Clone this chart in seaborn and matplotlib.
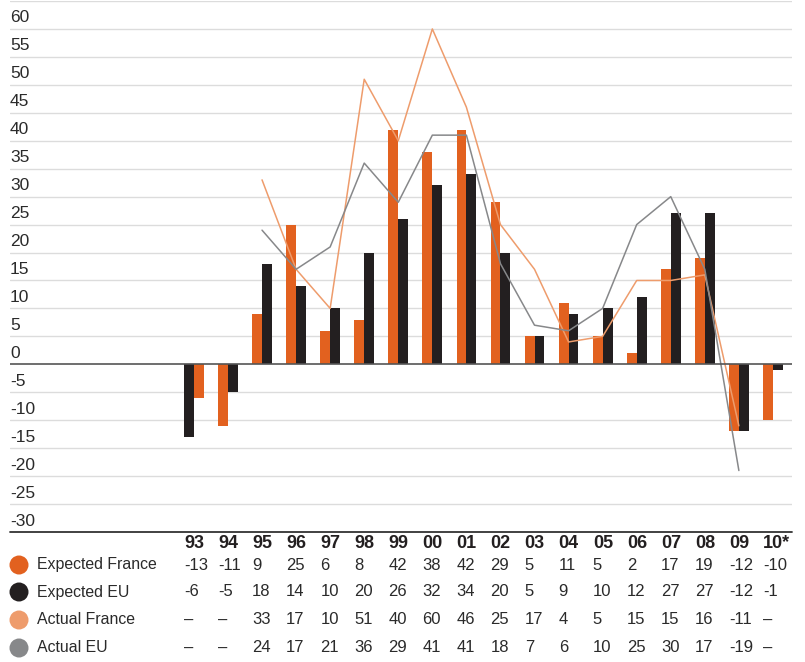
import numpy as np
import pandas as pd
import matplotlib
matplotlib.use("Agg")
import matplotlib.pyplot as plt
from matplotlib.patches import Ellipse
from matplotlib.transforms import blended_transform_factory, ScaledTranslation
import seaborn as sns

# ---- data -------------------------------------------------------------
years = ["93", "94", "95", "96", "97", "98", "99", "00", "01", "02",
         "03", "04", "05", "06", "07", "08", "09", "10*"]
expected_france = [-13, -11, 9, 25, 6, 8, 42, 38, 42, 29, 5, 11, 5, 2, 17, 19, -12, -10]
expected_eu = [-6, -5, 18, 14, 10, 20, 26, 32, 34, 20, 5, 9, 10, 12, 27, 27, -12, -1]
actual_france = [np.nan, np.nan, 33, 17, 10, 51, 40, 60, 46, 25, 17, 4, 5, 15, 15, 16, -11, np.nan]
actual_eu = [np.nan, np.nan, 24, 17, 21, 36, 29, 41, 41, 18, 7, 6, 10, 25, 30, 17, -19, np.nan]

series_names = ["Expected France", "Expected EU", "Actual France", "Actual EU"]
y_ticks = list(range(60, -31, -5))

ORANGE = "#E2611F"
BLACK = "#231F20"
LIGHT_ORANGE = "#EE9C6C"
GREY = "#87888A"
GRID = "#DCDCDC"
TEXT = "#2A2A2A"

# ---- style ------------------------------------------------------------
sns.set_style("white")
plt.rcParams["font.family"] = ["Liberation Sans", "DejaVu Sans"]

W, H = 805, 662
fig = plt.figure(figsize=(W / 100, H / 100), dpi=100)
ax = fig.add_axes([10 / W, 130 / H, 782 / W, 531 / H])

bars = pd.DataFrame({
    "year": years * 2,
    "value": expected_france + expected_eu,
    "series": ["Expected France"] * len(years) + ["Expected EU"] * len(years),
})
sns.barplot(data=bars, x="year", y="value", hue="series", order=years,
            hue_order=["Expected France", "Expected EU"],
            palette=[ORANGE, BLACK], width=0.58, gap=0, saturation=1,
            edgecolor="none", linewidth=0, legend=False, ax=ax, zorder=3)

# the first year's pair is drawn with the colours the other way round
n = len(years)
ax.patches[0].set_facecolor(BLACK)
ax.patches[n].set_facecolor(ORANGE)

pos = np.arange(n)
sns.lineplot(x=pos, y=actual_france, color=LIGHT_ORANGE, lw=1.1, ax=ax, zorder=4)
sns.lineplot(x=pos, y=actual_eu, color=GREY, lw=1.1, ax=ax, zorder=4)

ax.set_xlim(-5.40, 17.56)
ax.set_ylim(-30, 65)
for v in range(-25, 66, 5):
    if v != 0:
        ax.axhline(v, color=GRID, lw=1.0, zorder=1)
ax.axhline(0, color="#555555", lw=1.2, zorder=5)
ax.axhline(-30, color="#333333", lw=1.3, zorder=5, clip_on=False)

ax.set_xticks([])
ax.set_yticks([])
ax.set_xlabel("")
ax.set_ylabel("")
for s in ax.spines.values():
    s.set_visible(False)

# y labels sit just above their gridline
lab_tr = blended_transform_factory(ax.transAxes, ax.transData) + \
    ScaledTranslation(0, 6.5 / 100, fig.dpi_scale_trans)
for v in y_ticks:
    ax.text(0.0, v, str(v), transform=lab_tr, ha="left", va="baseline",
            fontsize=12.5, color=TEXT)

# ---- table under the chart --------------------------------------------
tab_tr = blended_transform_factory(ax.transData, fig.transFigure)
col_x = pos - 0.29


def fy(py):
    return 1 - py / H


for x, yr in zip(col_x, years):
    ax.text(x, fy(543), yr, transform=tab_tr, ha="left", va="center",
            fontsize=13, fontweight="bold", color=BLACK)

rows = [expected_france, expected_eu, actual_france, actual_eu]
row_y = [565, 592, 620, 648]
row_colors = [ORANGE, BLACK, LIGHT_ORANGE, GREY]
for name, vals, py, col in zip(series_names, rows, row_y, row_colors):
    fig.add_artist(Ellipse((19 / W, fy(py)), 19 / W, 19 / H,
                           transform=fig.transFigure, facecolor=col,
                           edgecolor="none"))
    fig.text(37 / W, fy(py), name, ha="left", va="center", fontsize=11.4,
             color=TEXT)
    for x, v in zip(col_x, vals):
        s = "–" if np.isnan(v) else str(int(v))
        ax.text(x, fy(py), s, transform=tab_tr, ha="left", va="center",
                fontsize=12, color=TEXT)

fig.savefig("out.png", dpi=100)
